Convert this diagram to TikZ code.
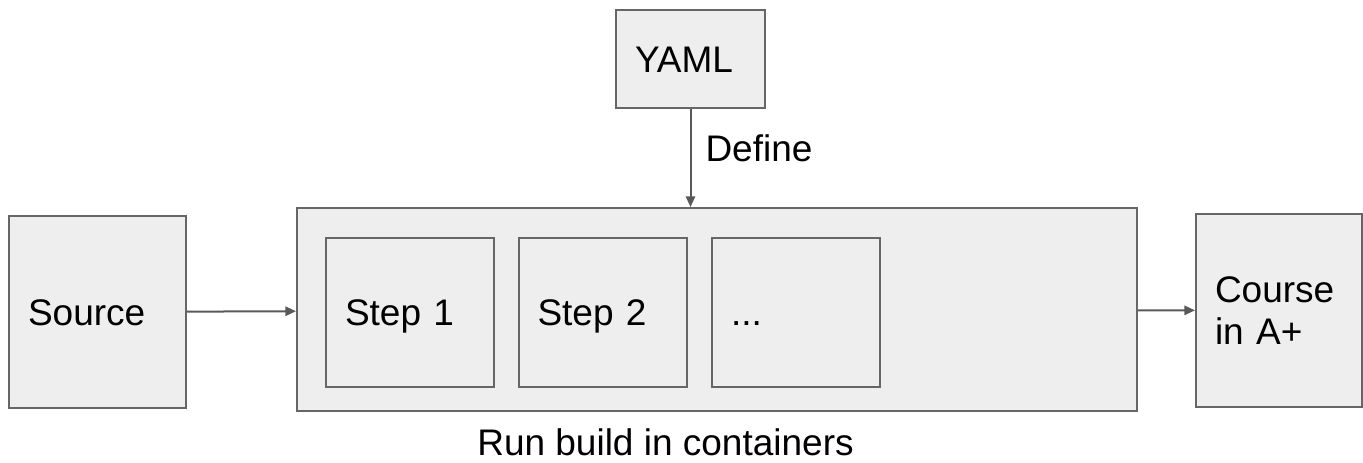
\documentclass[tikz,border=0pt]{standalone}
\usepackage{fontspec}
\setmainfont{Liberation Sans}
\usetikzlibrary{arrows.meta, positioning}
\definecolor{boxgray}{HTML}{EEEEEE}
\definecolor{linegray}{HTML}{666666}
\definecolor{arrowgray}{HTML}{595959}

\begin{document}
\begin{tikzpicture}[
    x=0.75pt, y=-0.75pt,
    box/.style={
        rectangle,
        draw=linegray,
        fill=boxgray,
        line width=1.5pt,
        align=left,
        inner xsep=14.25pt,
        inner ysep=0pt,
        font=\fontsize{27.75}{31}\selectfont
    },
    oneline/.style={text height=20pt, text depth=0pt},
    stepbox/.style={
        box, oneline,
        minimum width=126pt,
        minimum height=111.75pt,
        text width=97.5pt
    },
    arrow/.style={-{Triangle[length=8pt,width=7pt]}, draw=arrowgray, line width=1.5pt},
    lbl/.style={font=\fontsize{27.75}{31}\selectfont}
]
    \useasboundingbox (0,0) rectangle (1363,462);

    \node[box, oneline, minimum width=111.75pt, minimum height=73.5pt, text width=83.25pt] (yaml) at (690.5,59) {YAML};
    \node[box, oneline, minimum width=132.75pt, minimum height=144pt, text width=104.25pt] (source) at (97.5,312) {Source};
    \node[box, minimum width=630pt, minimum height=152.25pt] (run) at (717,309.5) {};
    \node[stepbox] (step1) at (410,312.5) {Step 1};
    \node[stepbox] (step2) at (602.5,312.5) {Step 2};
    \node[stepbox] (step3) at (796,312.5) {...};
    \node[box, minimum width=124.5pt, minimum height=144.75pt, text width=96pt] (course) at (1279,310.5) {Course\\in A+};
    \node[lbl] (caption) at (665.5,442) {Run build in containers};

    \draw[arrow] (yaml) -- node[lbl, pos=0.4, anchor=west, inner sep=0pt, xshift=10.5pt] (define) {Define} (yaml |- run.north);
    \draw[arrow] (source) -- (run);
    \draw[arrow] (run) -- (course);
\end{tikzpicture}
\end{document}
